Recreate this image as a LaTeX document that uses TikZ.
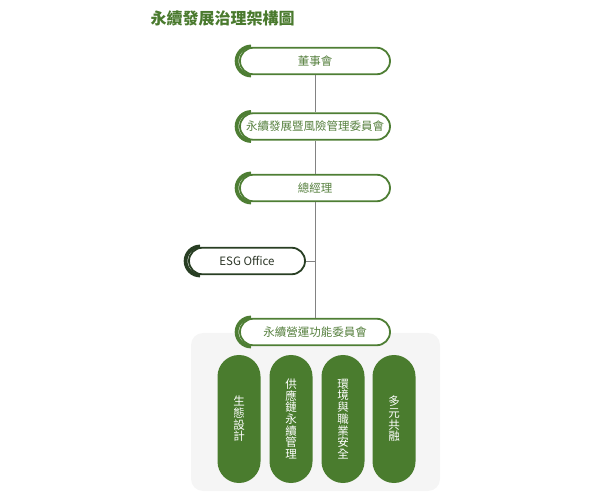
\documentclass[tikz,border=0pt]{standalone}
\usepackage{fontspec}
\setmainfont{Noto Sans CJK TC}
\newfontfamily\cjk{Noto Sans CJK TC}
\usetikzlibrary{shapes.misc}
\definecolor{gborder}{RGB}{78,126,52}
\definecolor{gtext}{RGB}{86,128,62}
\definecolor{gpill}{RGB}{74,124,46}
\definecolor{gtitle}{RGB}{74,122,46}
\definecolor{gdark}{RGB}{40,62,35}
\definecolor{gdarktext}{RGB}{45,55,40}
\definecolor{bgbox}{RGB}{245,245,245}
\definecolor{lineg}{RGB}{130,130,130}
\begin{document}
\begin{tikzpicture}[x=1pt,y=1pt,
  govbox/.style={rounded rectangle, draw=gborder, line width=1.8pt, fill=white,
    minimum height=26.5pt, inner sep=0pt, text=gtext,
    font=\cjk\fontsize{11.5}{12}\selectfont},
  esgbox/.style={govbox, draw=gdark, text=gdarktext},
  thickarc/.style={line width=3.8pt, draw=gborder},
  pill/.style={rectangle, rounded corners=21.5pt, fill=gpill, text=white,
    minimum width=43pt, minimum height=128pt, inner sep=0pt, align=center,
    font=\cjk\fontsize{11.5}{11.7}\selectfont},
  conn/.style={draw=lineg, line width=0.9pt}]
\useasboundingbox (0,0) rectangle (600,-494);
% background panel
\fill[bgbox, rounded corners=12pt] (191,-333) rectangle (440,-491);
% title
\node[font=\cjk\bfseries\fontsize{16}{18}\selectfont, text=gtitle, anchor=west] (title) at (147,-18) {永續發展治理架構圖};
% nodes
\node[govbox, minimum width=150pt] (n1) at (315,-61) {董事會};
\node[govbox, minimum width=150pt] (n2) at (315,-126.5) {永續發展暨風險管理委員會};
\node[govbox, minimum width=150pt] (n3) at (315,-188) {總經理};
\node[esgbox, minimum width=116pt] (esg) at (247,-261) {ESG Office};
\node[govbox, minimum width=150pt] (n5) at (315,-332) {永續營運功能委員會};
\coordinate (j) at (315,-261);
% connectors
\begin{scope}[on background layer/.try]
\end{scope}
\draw[conn] (n1.south) -- (n2.north);
\draw[conn] (n2.south) -- (n3.north);
\draw[conn] (n3.south) -- (n5.north);
\draw[conn] (esg.east) -- (j);
% thick arcs
\foreach \n in {n1,n2,n3,n5}{
  \draw[thickarc] ([xshift=12pt,yshift=14.5pt]\n.west) arc[start angle=90, end angle=270, radius=14.5pt];
}
\draw[thickarc, draw=gdark] ([xshift=12pt,yshift=14.5pt]esg.west) arc[start angle=90, end angle=270, radius=14.5pt];
% pills
\node[pill] (p1) at (239,-419) {生\\態\\設\\計};
\node[pill] (p2) at (291,-419) {供\\應\\鏈\\永\\續\\管\\理};
\node[pill] (p3) at (343,-419) {環\\境\\與\\職\\業\\安\\全};
\node[pill] (p4) at (394,-419) {多\\元\\共\\融};
\end{tikzpicture}
\end{document}
